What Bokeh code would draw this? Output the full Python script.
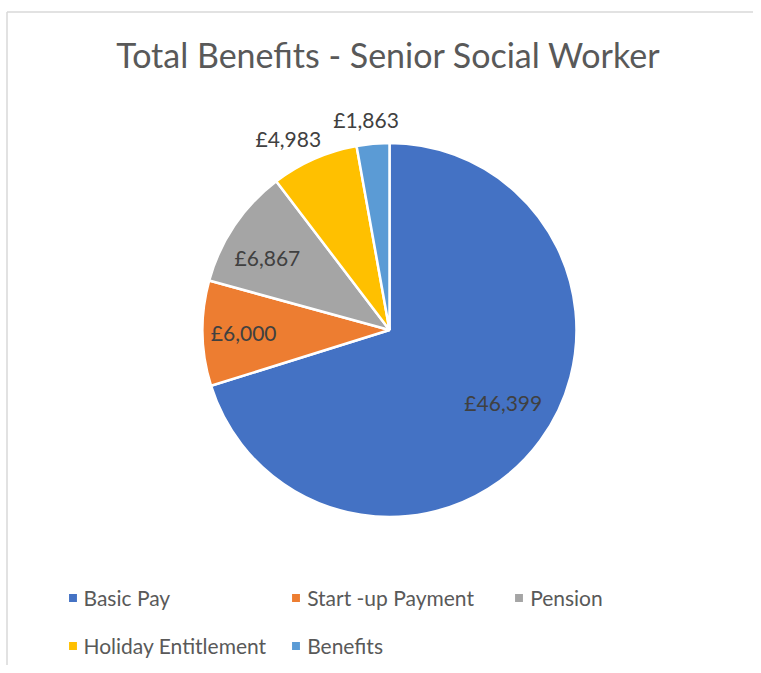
import math
import numpy as np
from bokeh.plotting import figure
from bokeh.models import ColumnDataSource, Range1d, Label
from bokeh.core.properties import value
from bokeh.embed import file_html
from bokeh.resources import INLINE

# ---- data ----
categories = ["Basic Pay", "Start -up Payment", "Pension", "Holiday Entitlement", "Benefits"]
amounts = [46399, 6000, 6867, 4983, 1863]
label_texts = ["£46,399", "£6,000", "£6,867", "£4,983", "£1,863"]
colors = ["#4472C4", "#ED7D31", "#A5A5A5", "#FFC000", "#5B9BD5"]

# label placement (styling): fraction of radius and angular nudge in degrees
label_radius_factor = [0.72, 0.78, 0.76, 1.16, 1.13]
label_angle_nudge = [4.0, 0.0, 3.2, 4.1, 1.3]

W, H = 753, 665
FONT = "Lato"

total = float(sum(amounts))
fracs = np.array(amounts) / total
cum_end = np.cumsum(fracs)
cum_start = cum_end - fracs
start_angles = math.pi / 2 - cum_start * 2 * math.pi
end_angles = math.pi / 2 - cum_end * 2 * math.pi
mid_angles = (start_angles + end_angles) / 2

cx, cy, R = 389.0, H - 329.5, 187.0

lab_ang = [a + math.radians(n) for a, n in zip(mid_angles, label_angle_nudge)]
lx = [cx + R * f * math.cos(a) for f, a in zip(label_radius_factor, lab_ang)]
ly = [cy + R * f * math.sin(a) for f, a in zip(label_radius_factor, lab_ang)]

src = ColumnDataSource(dict(
    category=categories, amount=amounts, color=colors,
    start=list(start_angles), end=list(end_angles),
))
lab_src = ColumnDataSource(dict(x=lx, y=ly, text=label_texts))

p = figure(width=W, height=H, x_range=Range1d(0, W), y_range=Range1d(0, H),
           output_backend="svg", toolbar_location=None, min_border=0,
           tools="")
p.axis.visible = False
p.grid.visible = False
p.outline_line_color = None
p.background_fill_color = "white"
p.border_fill_color = "white"

# chart border (left and top visible)
bx, by = 6.5, H - 11.5
p.segment(x0=[bx, bx], y0=[0, by], x1=[bx, W], y1=[by, by],
          line_color="#D9D9D9", line_width=1.5)

p.wedge(x=cx, y=cy, radius=R, start_angle="start", end_angle="end",
        direction="clock", fill_color="color", line_color="white",
        line_width=2.5, legend_field="category", source=src)

p.text(x="x", y="y", text="text", source=lab_src, text_align="center",
       text_baseline="middle", text_font=value(FONT), text_font_size="21px",
       text_color="#404040")

title = Label(x=388, y=H - 54, x_units="screen", y_units="screen",
              text="Total Benefits - Senior Social Worker", text_align="center",
              text_baseline="middle", text_font=FONT, text_font_size="34px",
              text_color="#595959", text_font_style="normal")
p.add_layout(title)

leg = p.legend[0]
leg.ncols = 3
leg.orientation = "horizontal"
leg.location = (65.5, 7.5)
leg.padding = 0
leg.margin = 0
leg.spacing = 23
leg.border_line_color = None
leg.background_fill_alpha = 0
leg.glyph_width = 13
leg.glyph_height = 13
leg.label_standoff = 5
leg.label_height = 22
leg.label_width = 182
leg.label_text_font = FONT
leg.label_text_font_size = "21px"
leg.label_text_color = "#595959"

open("out.html", "w").write(file_html(p, INLINE))
